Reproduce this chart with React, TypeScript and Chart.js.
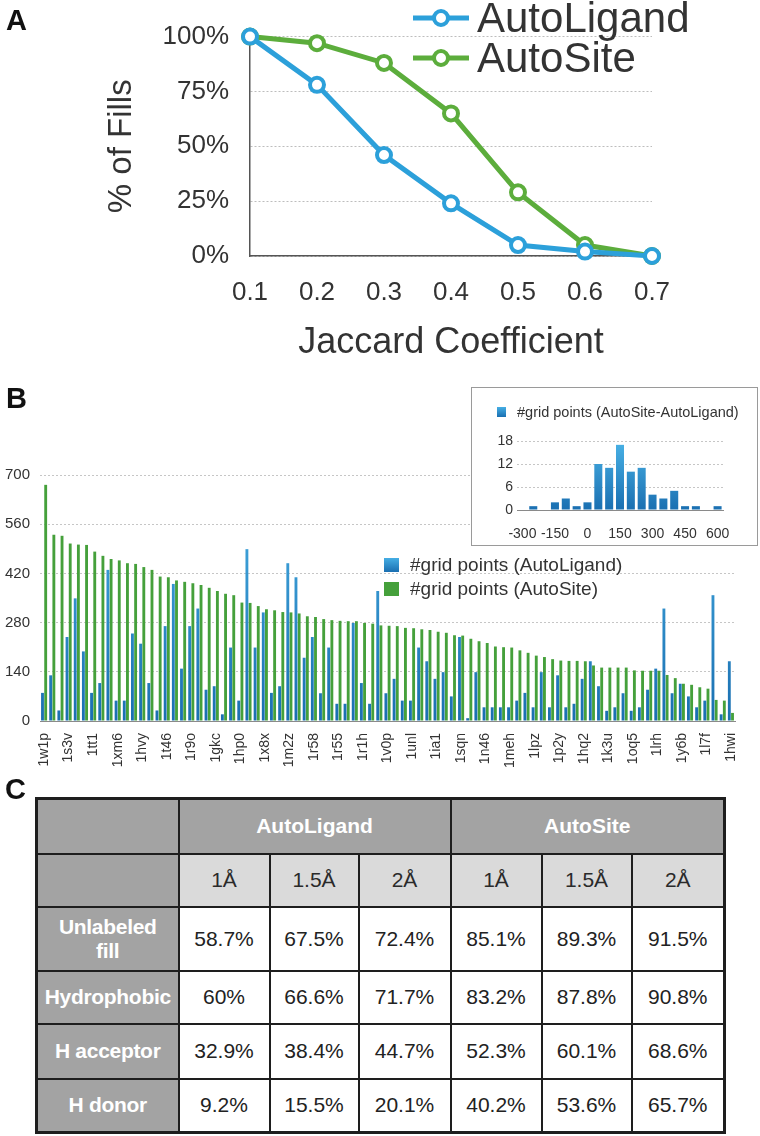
import React, { useEffect, useRef } from "react";
import { Chart, registerables } from "chart.js";

Chart.register(...registerables);

const FONT = "'Liberation Sans', Arial, Helvetica, sans-serif";

// ---------- Panel A data ----------
const jaccardLabels = ["0.1", "0.2", "0.3", "0.4", "0.5", "0.6", "0.7"];
const autoLigandFills = [100, 78, 46, 24, 5, 2, 0];
const autoSiteFills = [100, 97, 88, 65, 29, 5, 0];
const fillTicks = [0, 25, 50, 75, 100];

// ---------- Panel B data ----------
const labeledPdbIds = [
  "1w1p", "1s3v", "1tt1", "1xm6", "1hvy", "1t46", "1r9o", "1gkc", "1hp0", "1x8x",
  "1m2z", "1r58", "1r55", "1r1h", "1v0p", "1unl", "1ia1", "1sqn", "1n46", "1meh",
  "1lpz", "1p2y", "1hq2", "1k3u", "1oq5", "1lrh", "1y6b", "1l7f", "1hwi",
];
const autoLigandGrid = [
  80, 130, 30, 239, 349, 198, 80, 108, 430, 58,
  58, 249, 220, 108, 30, 270, 390, 149, 270, 320,
  89, 99, 19, 209, 58, 489, 209, 309, 80, 99,
  449, 409, 180, 239, 79, 209, 49, 49, 279, 108,
  49, 370, 79, 120, 58, 58, 209, 170, 120, 139,
  70, 239, 8, 139, 39, 39, 39, 39, 58, 80,
  39, 139, 39, 130, 39, 49, 120, 170, 99, 29,
  39, 79, 29, 39, 89, 149, 320, 79, 106, 70,
  39, 58, 358, 19, 170,
];
const autoSiteGrid = [
  672, 530, 527, 505, 502, 501, 482, 470, 461, 457,
  449, 447, 438, 430, 411, 409, 400, 396, 392, 387,
  379, 370, 362, 358, 337, 336, 327, 318, 315, 310,
  309, 306, 298, 296, 290, 287, 285, 284, 284, 279,
  277, 272, 271, 270, 265, 264, 261, 259, 254, 251,
  244, 243, 234, 227, 222, 212, 210, 209, 201, 194,
  186, 182, 176, 172, 171, 171, 170, 158, 152, 152,
  152, 152, 144, 143, 143, 143, 131, 122, 106, 103,
  96, 92, 60, 58, 23,
];
const gridTicksMax = 700;
const gridTicksStep = 140;
const pdbCategories = autoSiteGrid.map((_, i) => (i % 3 === 0 ? labeledPdbIds[i / 3] : ""));

// ---------- Inset data ----------
const diffBins = [
  "-300", "-250", "-200", "-150", "-100", "-50", "0", "50", "100", "150",
  "200", "250", "300", "350", "400", "450", "500", "550", "600",
];
const diffCounts = [0, 1, 0, 2, 3, 1, 2, 12, 11, 17, 10, 11, 4, 3, 5, 1, 1, 0, 1];

// ---------- Table data ----------
const methods = ["AutoLigand", "AutoSite"];
const radii = ["1Å", "1.5Å", "2Å"];
const rowNames = ["Unlabeled\nfill", "Hydrophobic", "H acceptor", "H donor"];
const unlabeledFill = ["58.7%", "67.5%", "72.4%", "85.1%", "89.3%", "91.5%"];
const hydrophobic = ["60%", "66.6%", "71.7%", "83.2%", "87.8%", "90.8%"];
const hAcceptor = ["32.9%", "38.4%", "44.7%", "52.3%", "60.1%", "68.6%"];
const hDonor = ["9.2%", "15.5%", "20.1%", "40.2%", "53.6%", "65.7%"];
const tableValues = [unlabeledFill, hydrophobic, hAcceptor, hDonor];

const BLUE_A = "#2ca0da";
const GREEN_A = "#5cad3c";
const GREEN_B = "#45a03b";

function blueGradient(c: any) {
  const chart = c.chart;
  const area = chart.chartArea;
  if (!area) return "#2a8ccc";
  const g = chart.ctx.createLinearGradient(0, area.top, 0, area.bottom);
  g.addColorStop(0, "#49b2e6");
  g.addColorStop(1, "#1a6fb1");
  return g;
}

export default function App() {
  const aRef = useRef<HTMLCanvasElement>(null);
  const bRef = useRef<HTMLCanvasElement>(null);
  const insetRef = useRef<HTMLCanvasElement>(null);

  useEffect(() => {
    document.body.style.margin = "0";
    const charts: Chart[] = [];

    // Panel A
    charts.push(
      new Chart(aRef.current!, {
        type: "line",
        data: {
          labels: jaccardLabels,
          datasets: [
            {
              label: "AutoLigand",
              data: autoLigandFills,
              borderColor: BLUE_A,
              backgroundColor: "#ffffff",
              pointBackgroundColor: "#ffffff",
              pointBorderColor: BLUE_A,
              borderWidth: 5,
              pointRadius: 7,
              pointBorderWidth: 4,
              clip: false,
            } as any,
            {
              label: "AutoSite",
              data: autoSiteFills,
              borderColor: GREEN_A,
              backgroundColor: "#ffffff",
              pointBackgroundColor: "#ffffff",
              pointBorderColor: GREEN_A,
              borderWidth: 5,
              pointRadius: 7,
              pointBorderWidth: 4,
              clip: false,
            } as any,
          ],
        },
        options: {
          animation: false,
          responsive: false,
          maintainAspectRatio: false,
          layout: { padding: { left: 99, top: 30, right: 108, bottom: 2 } },
          plugins: { legend: { display: false }, tooltip: { enabled: false } },
          scales: {
            x: {
              type: "category",
              offset: false,
              grid: { display: false },
              border: { display: true, color: "#555", width: 1.5 },
              ticks: { font: { family: FONT, size: 26 }, color: "#333", padding: 13, maxRotation: 0 },
              title: {
                display: true,
                text: "Jaccard Coefficient",
                font: { family: FONT, size: 36 },
                color: "#333",
                padding: { top: 0, bottom: 3 },
              },
              afterFit: (s: any) => {
                s.height = 112;
              },
            },
            y: {
              min: 0,
              max: 100,
              afterBuildTicks: (s: any) => {
                s.ticks = fillTicks.map((v) => ({ value: v }));
              },
              ticks: {
                callback: (v: any) => v + "%",
                font: { family: FONT, size: 26 },
                color: "#333",
                padding: 21,
              },
              grid: { color: "#bdbdbd", drawTicks: false, lineWidth: 1 },
              border: { display: true, color: "#555", width: 1.5, dash: [2, 2] },
              title: {
                display: true,
                text: "% of Fills",
                font: { family: FONT, size: 33 },
                color: "#333",
                padding: { top: 3, bottom: 0 },
              },
              afterFit: (s: any) => {
                s.width = 151;
              },
            },
          },
        },
      } as any)
    );

    // Panel B
    charts.push(
      new Chart(bRef.current!, {
        type: "bar",
        data: {
          labels: pdbCategories,
          datasets: [
            {
              label: "#grid points (AutoLigand)",
              data: autoLigandGrid,
              backgroundColor: blueGradient,
              barPercentage: 0.9,
              categoryPercentage: 0.78,
            },
            {
              label: "#grid points (AutoSite)",
              data: autoSiteGrid,
              backgroundColor: GREEN_B,
              barPercentage: 0.9,
              categoryPercentage: 0.78,
            },
          ],
        },
        options: {
          animation: false,
          responsive: false,
          maintainAspectRatio: false,
          layout: { padding: { left: 0, right: 25, top: 95, bottom: 0 } },
          plugins: { legend: { display: false }, tooltip: { enabled: false } },
          scales: {
            x: {
              type: "category",
              grid: { display: false },
              border: { display: true, color: "#8a8a8a", width: 1 },
              ticks: {
                autoSkip: false,
                minRotation: 90,
                maxRotation: 90,
                font: { family: FONT, size: 14 },
                color: "#333",
                padding: 4,
              },
              afterFit: (s: any) => {
                s.height = 49;
              },
            },
            y: {
              min: 0,
              max: gridTicksMax,
              ticks: { stepSize: gridTicksStep, font: { family: FONT, size: 15 }, color: "#333", padding: 10 },
              grid: { color: "#c6c6c6", drawTicks: false },
              border: { display: false, dash: [2, 2] },
              afterFit: (s: any) => {
                s.width = 40;
              },
            },
          },
        },
      } as any)
    );

    // Inset histogram
    charts.push(
      new Chart(insetRef.current!, {
        type: "bar",
        data: {
          labels: diffBins,
          datasets: [
            {
              label: "#grid points (AutoSite-AutoLigand)",
              data: diffCounts,
              backgroundColor: blueGradient,
              barPercentage: 0.78,
              categoryPercentage: 0.95,
            },
          ],
        },
        options: {
          animation: false,
          responsive: false,
          maintainAspectRatio: false,
          layout: { padding: { left: 0, right: 34, top: 53, bottom: 0 } },
          plugins: { legend: { display: false }, tooltip: { enabled: false } },
          scales: {
            x: {
              type: "category",
              grid: { display: false },
              border: { display: true, color: "#8a8a8a", width: 1 },
              ticks: {
                autoSkip: false,
                maxRotation: 0,
                minRotation: 0,
                font: { family: FONT, size: 14 },
                color: "#333",
                padding: 8,
                callback: (_v: any, i: number) => (i % 3 === 0 ? diffBins[i] : ""),
              },
              afterFit: (s: any) => {
                s.height = 35;
              },
            },
            y: {
              min: 0,
              max: 18,
              ticks: { stepSize: 6, font: { family: FONT, size: 14 }, color: "#333", padding: 4 },
              grid: { color: "#c6c6c6", drawTicks: false },
              border: { display: false, dash: [2, 2] },
              afterFit: (s: any) => {
                s.width = 45;
              },
            },
          },
        },
      } as any)
    );

    return () => charts.forEach((c) => c.destroy());
  }, []);

  const abs = (left: number, top: number, extra: React.CSSProperties = {}): React.CSSProperties => ({
    position: "absolute",
    left,
    top,
    ...extra,
  });

  const panelLetter: React.CSSProperties = {
    fontFamily: FONT,
    fontWeight: 700,
    fontSize: 29,
    lineHeight: 1,
    color: "#111",
  };

  const colWidths = [142, 91, 89, 92, 91, 90, 93];
  const rowHeights = [55, 53, 64, 53, 55, 54];
  const BORDER = "2px solid #1e1e1e";
  const headGray = "#a3a3a3";
  const lightGray = "#dadada";

  return (
    <div
      style={{
        position: "relative",
        width: 760,
        height: 1136,
        overflow: "hidden",
        background: "#ffffff",
        fontFamily: FONT,
      }}
    >
      {/* Panel A */}
      <canvas ref={aRef} width={760} height={370} style={abs(0, 0, { width: 760, height: 370 })} />
      <div style={abs(6, 6, panelLetter)}>A</div>
      <svg style={abs(405, 0)} width={75} height={80}>
        <line x1={8} y1={18} x2={64} y2={18} stroke={BLUE_A} strokeWidth={5} />
        <circle cx={36} cy={18} r={7} fill="#fff" stroke={BLUE_A} strokeWidth={4} />
        <line x1={8} y1={58} x2={64} y2={58} stroke={GREEN_A} strokeWidth={5} />
        <circle cx={36} cy={58} r={7} fill="#fff" stroke={GREEN_A} strokeWidth={4} />
      </svg>
      <div style={abs(477, 18, { transform: "translateY(-50%)", fontSize: 42, color: "#333", whiteSpace: "nowrap" })}>
        AutoLigand
      </div>
      <div style={abs(477, 58, { transform: "translateY(-50%)", fontSize: 42, color: "#333", whiteSpace: "nowrap" })}>
        AutoSite
      </div>

      {/* Panel B */}
      <canvas ref={bRef} width={760} height={390} style={abs(0, 380, { width: 760, height: 390 })} />
      <div style={abs(6, 384, panelLetter)}>B</div>
      <div
        style={abs(384, 558, {
          width: 15,
          height: 14,
          background: "linear-gradient(#45aee4, #1a6fb1)",
        })}
      />
      <div
        style={abs(384, 582, {
          width: 15,
          height: 14,
          background: GREEN_B,
        })}
      />
      <div style={abs(410, 565, { transform: "translateY(-50%)", fontSize: 19, color: "#333", whiteSpace: "nowrap" })}>
        #grid points (AutoLigand)
      </div>
      <div style={abs(410, 589, { transform: "translateY(-50%)", fontSize: 19, color: "#333", whiteSpace: "nowrap" })}>
        #grid points (AutoSite)
      </div>

      {/* Inset */}
      <div
        style={abs(471, 387, {
          width: 285,
          height: 157,
          border: "1px solid #9a9a9a",
          background: "#ffffff",
        })}
      >
        <canvas ref={insetRef} width={285} height={157} style={{ position: "absolute", left: 0, top: 0, width: 285, height: 157 }} />
        <div
          style={{
            position: "absolute",
            left: 25,
            top: 19,
            width: 9,
            height: 10,
            background: "linear-gradient(#45aee4, #1a6fb1)",
          }}
        />
        <div
          style={{
            position: "absolute",
            left: 45,
            top: 24,
            transform: "translateY(-50%)",
            fontSize: 14.5,
            color: "#333",
            whiteSpace: "nowrap",
          }}
        >
          #grid points (AutoSite-AutoLigand)
        </div>
      </div>

      {/* Panel C */}
      <div style={abs(5, 775, panelLetter)}>C</div>
      <table
        style={abs(35, 797, {
          borderCollapse: "collapse",
          tableLayout: "fixed",
          width: colWidths.reduce((a, b) => a + b, 0),
          border: "3px solid #1e1e1e",
          fontFamily: FONT,
        })}
      >
        <colgroup>
          {colWidths.map((w, i) => (
            <col key={i} style={{ width: w }} />
          ))}
        </colgroup>
        <tbody>
          <tr style={{ height: rowHeights[0] }}>
            <td style={{ background: headGray, border: BORDER }} />
            {methods.map((m, i) => (
              <td
                key={m}
                colSpan={3}
                style={{
                  background: headGray,
                  border: BORDER,
                  borderLeft: i === 1 ? "2px solid #e6e6e6" : BORDER,
                  color: "#fff",
                  fontWeight: 700,
                  fontSize: 21,
                  textAlign: "center",
                  verticalAlign: "middle",
                  padding: 0,
                }}
              >
                {m}
              </td>
            ))}
          </tr>
          <tr style={{ height: rowHeights[1] }}>
            <td style={{ background: headGray, border: BORDER }} />
            {methods.flatMap((m, mi) =>
              radii.map((r, ri) => (
                <td
                  key={m + r}
                  style={{
                    background: lightGray,
                    border: BORDER,
                    borderLeft: mi === 1 && ri === 0 ? "2px solid #e6e6e6" : BORDER,
                    color: "#2a2a2a",
                    fontSize: 21,
                    textAlign: "center",
                    verticalAlign: "middle",
                    padding: 0,
                  }}
                >
                  {r}
                </td>
              ))
            )}
          </tr>
          {rowNames.map((name, ri) => (
            <tr key={name} style={{ height: rowHeights[ri + 2] }}>
              <td
                style={{
                  background: headGray,
                  border: BORDER,
                  color: "#fff",
                  fontWeight: 700,
                  fontSize: 21,
                  lineHeight: "24px",
                  textAlign: "center",
                  verticalAlign: "middle",
                  padding: 0,
                  whiteSpace: "pre-line",
                  letterSpacing: -0.3,
                }}
              >
                {name}
              </td>
              {tableValues[ri].map((v, ci) => (
                <td
                  key={ci}
                  style={{
                    background: "#fff",
                    border: BORDER,
                    color: "#222",
                    fontSize: 21,
                    textAlign: "center",
                    verticalAlign: "middle",
                    padding: 0,
                  }}
                >
                  {v}
                </td>
              ))}
            </tr>
          ))}
        </tbody>
      </table>
    </div>
  );
}
